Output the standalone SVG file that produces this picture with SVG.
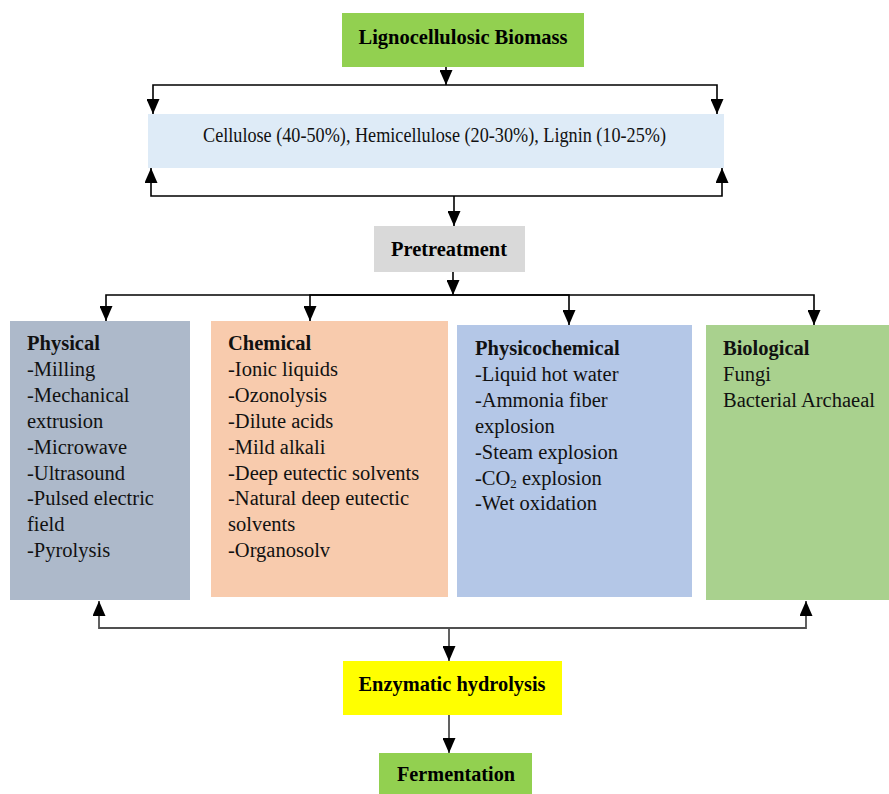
<svg xmlns="http://www.w3.org/2000/svg" width="889" height="794" viewBox="0 0 889 794">
<style>
.b{font-family:"Liberation Serif","Times New Roman",serif;font-weight:bold;font-size:22px;fill:#000;text-anchor:middle}
.t{font-family:"Liberation Serif","Times New Roman",serif;font-size:20.5px;fill:#111}
.h{font-weight:bold}
.c{fill:none;stroke:#000;stroke-width:1.6}
.g{fill:none;stroke:#505050;stroke-width:1.8}
</style>
<defs>
<marker id="ah" viewBox="0 0 15 13" refX="15" refY="6.5" markerWidth="15" markerHeight="13" orient="auto" markerUnits="userSpaceOnUse">
<path d="M0,0 L15,6.5 L0,13 z" fill="#000"/>
</marker>
</defs>
<rect width="889" height="794" fill="#fff"/>

<g id="connectors">
<path class="c" d="M446,67 V85" marker-end="url(#ah)"/>
<path class="c" d="M446,85 H153 V114" marker-end="url(#ah)"/>
<path class="c" d="M446,85 H717 V114" marker-end="url(#ah)"/>
<path class="c" d="M454,196 H151 V168" marker-end="url(#ah)"/>
<path class="c" d="M454,196 H722 V168" marker-end="url(#ah)"/>
<path class="c" d="M454,196 V226" marker-end="url(#ah)"/>
<path class="c" d="M453,272 V295" marker-end="url(#ah)"/>
<path class="c" d="M453,295 H106 V321" marker-end="url(#ah)"/>
<path class="c" d="M453,295 H310 V321" marker-end="url(#ah)"/>
<path class="c" d="M453,295 H569 V325" marker-end="url(#ah)"/>
<path class="c" d="M453,295 H814 V325" marker-end="url(#ah)"/>
<path class="g" d="M449,628 H99 V601" marker-end="url(#ah)"/>
<path class="g" d="M449,628 H806 V601" marker-end="url(#ah)"/>
<path class="g" d="M449,628 V661" marker-end="url(#ah)"/>
<path class="g" d="M449,715 V753" marker-end="url(#ah)"/>
</g>

<g id="biomass">
<rect x="342" y="13" width="242" height="54" fill="#92D050"/>
<text class="b" x="463" y="44" textLength="209" lengthAdjust="spacingAndGlyphs">Lignocellulosic Biomass</text>
</g>

<g id="composition">
<rect x="148" y="114" width="576" height="54" fill="#DEEBF7"/>
<text class="t" x="203" y="142" font-size="19" textLength="463" lengthAdjust="spacingAndGlyphs">Cellulose (40-50%), Hemicellulose (20-30%), Lignin (10-25%)</text>
</g>

<g id="pretreatment">
<rect x="374" y="226" width="151" height="46" fill="#D9D9D9"/>
<text class="b" x="449" y="256" textLength="116" lengthAdjust="spacingAndGlyphs">Pretreatment</text>
</g>

<g id="physical">
<rect x="10" y="321" width="180" height="279" fill="#ADB9CA"/>
<text class="t" x="27" y="350">
<tspan class="h">Physical</tspan>
<tspan x="27" dy="25.9">-Milling</tspan>
<tspan x="27" dy="25.9">-Mechanical</tspan>
<tspan x="27" dy="25.9">extrusion</tspan>
<tspan x="27" dy="25.9">-Microwave</tspan>
<tspan x="27" dy="25.9">-Ultrasound</tspan>
<tspan x="27" dy="25.9">-Pulsed electric</tspan>
<tspan x="27" dy="25.9">field</tspan>
<tspan x="27" dy="25.9">-Pyrolysis</tspan>
</text>
</g>

<g id="chemical">
<rect x="211" y="321" width="237" height="276" fill="#F8CBAD"/>
<text class="t" x="228" y="350">
<tspan class="h">Chemical</tspan>
<tspan x="228" dy="25.9">-Ionic liquids</tspan>
<tspan x="228" dy="25.9">-Ozonolysis</tspan>
<tspan x="228" dy="25.9">-Dilute acids</tspan>
<tspan x="228" dy="25.9">-Mild alkali</tspan>
<tspan x="228" dy="25.9">-Deep eutectic solvents</tspan>
<tspan x="228" dy="25.9">-Natural deep eutectic</tspan>
<tspan x="228" dy="25.9">solvents</tspan>
<tspan x="228" dy="25.9">-Organosolv</tspan>
</text>
</g>

<g id="physicochemical">
<rect x="457" y="325" width="235" height="272" fill="#B4C7E7"/>
<text class="t" x="475" y="355">
<tspan class="h">Physicochemical</tspan>
<tspan x="475" dy="25.9">-Liquid hot water</tspan>
<tspan x="475" dy="25.9">-Ammonia fiber</tspan>
<tspan x="475" dy="25.9">explosion</tspan>
<tspan x="475" dy="25.9">-Steam explosion</tspan>
<tspan x="475" dy="25.9">-CO<tspan font-size="13" dy="3">2</tspan><tspan dy="-3"> explosion</tspan></tspan>
<tspan x="475" dy="25.9">-Wet oxidation</tspan>
</text>
</g>

<g id="biological">
<rect x="706" y="325" width="183" height="275" fill="#A9D18E"/>
<text class="t" x="723" y="355">
<tspan class="h">Biological</tspan>
<tspan x="723" dy="25.9">Fungi</tspan>
<tspan x="723" dy="25.9">Bacterial Archaeal</tspan>
</text>
</g>

<g id="enzymatic">
<rect x="343" y="661" width="219" height="54" fill="#FFFF00"/>
<text class="b" x="452" y="691" textLength="187" lengthAdjust="spacingAndGlyphs">Enzymatic hydrolysis</text>
</g>

<g id="fermentation">
<rect x="379" y="753" width="153" height="41" fill="#92D050"/>
<text class="b" x="456" y="781" textLength="118" lengthAdjust="spacingAndGlyphs">Fermentation</text>
</g>
</svg>
